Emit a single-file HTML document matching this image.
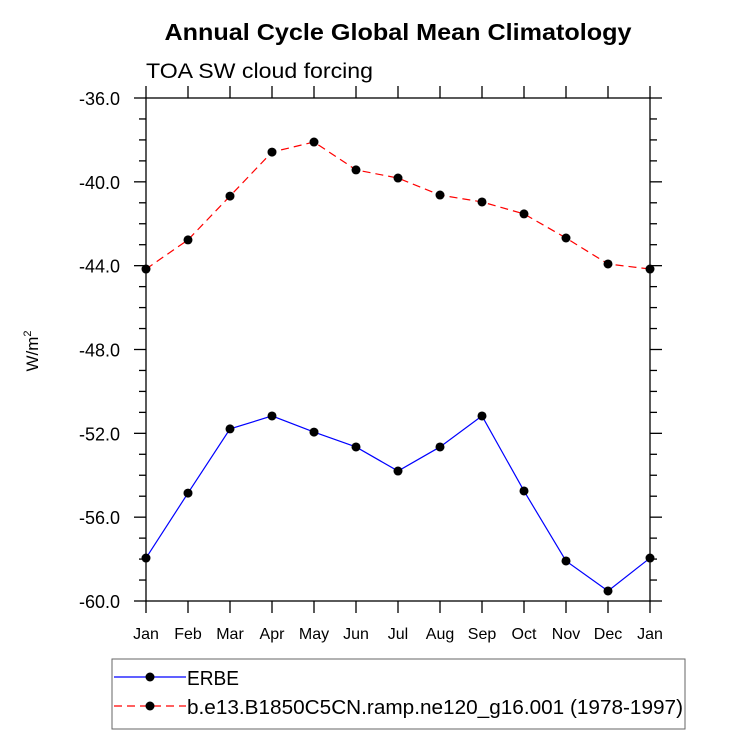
<!DOCTYPE html>
<html><head><meta charset="utf-8"><style>
body{margin:0;background:#fff}
svg text{font-family:"Liberation Sans",sans-serif}
</style></head><body>
<svg id="c" width="733" height="732" xmlns="http://www.w3.org/2000/svg">
<text x="398" y="40" font-size="23" font-weight="bold" text-anchor="middle" textLength="467" lengthAdjust="spacingAndGlyphs">Annual Cycle Global Mean Climatology</text>
<text x="146" y="78" font-size="21" textLength="227" lengthAdjust="spacingAndGlyphs">TOA SW cloud forcing</text>
<text transform="translate(38,351) rotate(-90)" font-size="17" text-anchor="middle">W/m<tspan dy="-7" font-size="11">2</tspan></text>
<rect x="146" y="98" width="504" height="503" fill="none" stroke="#000" stroke-width="1.3"/>
<g id="axes"></g>
<g id="series"></g>
<rect x="112" y="659" width="573" height="70" fill="none" stroke="#666" stroke-width="1"/>
<g>
<line x1="114" y1="677" x2="186" y2="677" stroke="#00f" stroke-width="1.2"/>
<circle cx="150" cy="677" r="4.5" fill="#000"/>
<text x="187" y="685" font-size="20" textLength="52" lengthAdjust="spacingAndGlyphs">ERBE</text></g>
<g>
<line x1="114" y1="706" x2="186" y2="706" stroke="#f00" stroke-width="1.2" stroke-dasharray="8,5"/>
<circle cx="150" cy="706" r="4.5" fill="#000"/>
<text x="187" y="714" font-size="20" textLength="496" lengthAdjust="spacingAndGlyphs">b.e13.B1850C5CN.ramp.ne120_g16.001 (1978-1997)</text></g>
</svg>
<script>
const months=["Jan","Feb","Mar","Apr","May","Jun","Jul","Aug","Sep","Oct","Nov","Dec","Jan"];
const erbe=[-57.95,-54.85,-51.79,-51.17,-51.94,-52.65,-53.8,-52.65,-51.17,-54.75,-58.09,-59.52,-57.95];
const model=[-44.16,-42.77,-40.68,-38.58,-38.1,-39.43,-39.82,-40.63,-40.96,-41.53,-42.68,-43.92,-44.16];
const yTicks=[-36,-40,-44,-48,-52,-56,-60];
const NS="http://www.w3.org/2000/svg";
const L=146,R=650,T=98,B=601,ymax=-36,ymin=-60;
const xs=i=>L+(R-L)*i/(months.length-1);
const ys=v=>T+(ymax-v)/(ymax-ymin)*(B-T);
function mk(tag,a,p){const e=document.createElementNS(NS,tag);for(const k in a)e.setAttribute(k,a[k]);p.appendChild(e);return e;}
const ax=document.getElementById('axes');
months.forEach((m,i)=>{
 const x=xs(i);
 const tb=mk('line',{x1:x,y1:B,x2:x,y2:B+12,stroke:'#000','stroke-width':1.3},ax);
 
 
 const tt=mk('line',{x1:x,y1:T,x2:x,y2:T-12,stroke:'#000','stroke-width':1.3},ax);
 
 
 const t=mk('text',{x:x,y:639,'font-size':16,'text-anchor':'middle'},ax);t.textContent=m;
 
 
});
for(let v=ymax;v>=ymin;v-=1){
 const y=ys(v),maj=yTicks.includes(v),len=maj?12:7;
 const a=mk('line',{x1:L,y1:y,x2:L-len,y2:y,stroke:'#000','stroke-width':1.3},ax);
 
 
 const b=mk('line',{x1:R,y1:y,x2:R+len,y2:y,stroke:'#000','stroke-width':1.3},ax);
 
 
}
yTicks.forEach(v=>{
 const t=mk('text',{x:120,y:ys(v)+7,'font-size':18,'text-anchor':'end'},ax);t.textContent=v.toFixed(1);
 
 
});
const sg=document.getElementById('series');
function series(data,color,dash,name){
 const g=mk('g',{},sg);
 
 
 mk('polyline',{points:data.map((v,i)=>xs(i)+','+ys(v)).join(' '),fill:'none',stroke:color,'stroke-width':1.2,'stroke-dasharray':dash},g);
 data.forEach((v,i)=>{const c=mk('circle',{cx:xs(i),cy:ys(v),r:4.5,fill:'#000'},g);
  
  });
}
series(erbe,'#00f','none','erbe-line');
series(model,'#f00','8,5','model-line');
</script>
</body></html>
